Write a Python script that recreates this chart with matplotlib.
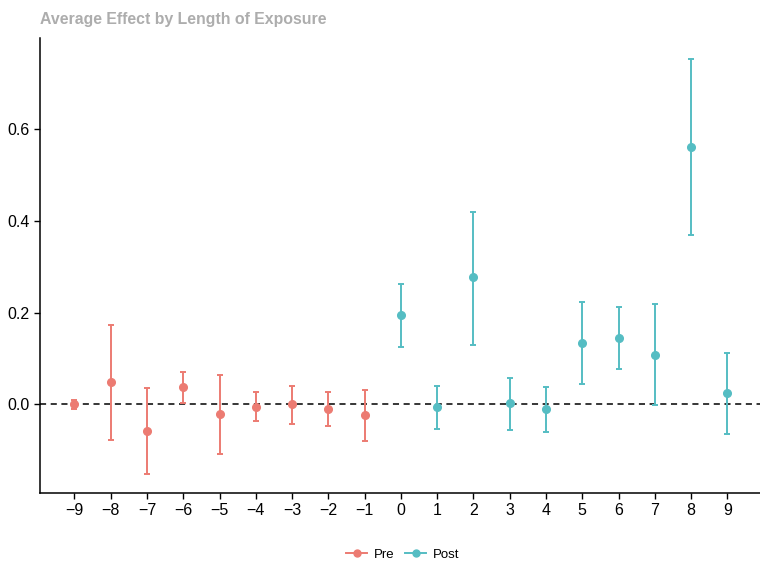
import matplotlib
matplotlib.use("Agg")
import matplotlib.pyplot as plt
from matplotlib.lines import Line2D

plt.rcParams['font.family'] = ['Liberation Sans', 'DejaVu Sans']

periods = list(range(-9, 10))
estimates = [0.000, 0.048, -0.059, 0.037, -0.022, -0.005, 0.000, -0.009, -0.024,
             0.195, -0.005, 0.277, 0.002, -0.011, 0.134, 0.145, 0.108, 0.561, 0.024]
upper = [0.010, 0.173, 0.035, 0.071, 0.063, 0.026, 0.041, 0.027, 0.032,
         0.262, 0.041, 0.420, 0.058, 0.037, 0.223, 0.212, 0.219, 0.752, 0.113]
lower = [-0.010, -0.078, -0.152, 0.002, -0.108, -0.037, -0.043, -0.048, -0.080,
         0.126, -0.053, 0.130, -0.056, -0.060, 0.045, 0.078, -0.002, 0.368, -0.065]
groups = ["Pre" if p < 0 else "Post" for p in periods]
colors = {"Pre": "#EC7B72", "Post": "#55BDC3"}

fig = plt.figure(figsize=(7.6, 5.64), dpi=100)
ax = fig.add_axes([0.0526, 0.1259, 0.9474, 0.8067])

ax.axhline(0, color="black", linestyle=(0, (4, 3)), linewidth=1.1, zorder=1)

for g in ["Pre", "Post"]:
    idx = [i for i, gg in enumerate(groups) if gg == g]
    xs = [periods[i] for i in idx]
    ys = [estimates[i] for i in idx]
    lo = [estimates[i] - lower[i] for i in idx]
    hi = [upper[i] - estimates[i] for i in idx]
    ax.errorbar(xs, ys, yerr=[lo, hi], fmt="o", color=colors[g], ecolor=colors[g],
                markersize=5.5, elinewidth=1.4, capsize=2, capthick=1.4, zorder=3)

ax.set_xlim(-9.95, 9.9)
ax.set_ylim(-0.193, 0.798)
ax.set_xticks(periods)
ax.set_xticklabels([str(p).replace("-", "\u2212") for p in periods])
ax.set_yticks([0.0, 0.2, 0.4, 0.6])
ax.set_yticklabels(["0.0", "0.2", "0.4", "0.6"])
ax.tick_params(axis="both", labelsize=11.5, colors="black", length=4, width=1)
ax.tick_params(axis="x", pad=3)
for s in ["top", "right"]:
    ax.spines[s].set_visible(False)
for s in ["left", "bottom"]:
    ax.spines[s].set_linewidth(1.1)

fig.text(0.0526, 0.966, "Average Effect by Length of Exposure", fontsize=11.4,
         fontweight="bold", color="#ADADAD", ha="left", va="center")

handles = [Line2D([0], [0], color=colors[g], marker="o", markersize=5, linewidth=1.4,
                  label=g) for g in ["Pre", "Post"]]
fig.legend(handles=handles, loc="center", bbox_to_anchor=(0.53, 0.017), ncol=2,
           frameon=False, fontsize=9.5, handlelength=1.6, columnspacing=0.8, handletextpad=0.5)

fig.savefig("out.png", dpi=100)
